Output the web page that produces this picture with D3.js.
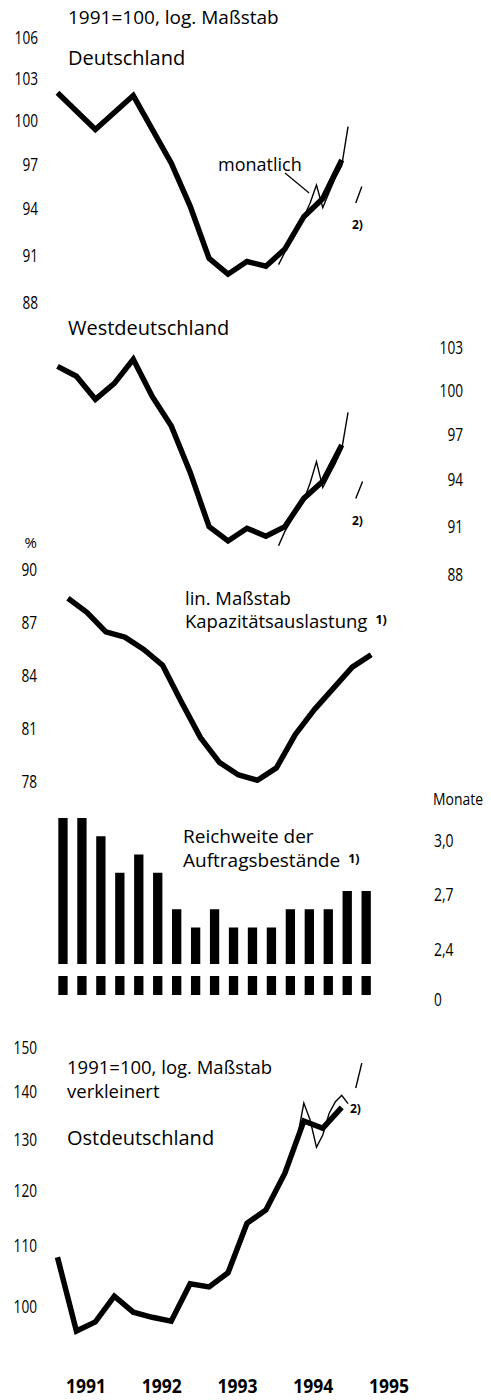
<!DOCTYPE html>
<html>
<head>
<meta charset="utf-8">
<script src="https://cdn.jsdelivr.net/npm/d3@7"></script>
<style>
body { margin: 0; background: #fff; }
svg { display: block; }
</style>
</head>
<body>
<svg id="chart" width="491" height="1400" font-family="'Open Sans', 'Noto Sans', sans-serif"></svg>
<script>
var width = 491;
var height = 1400;

// Jahre (Beschriftung unten)
var years = [1991, 1992, 1993, 1994, 1995];

// Vierteljahre 1991 I bis 1995 I
var quarters = ["1991-1", "1991-2", "1991-3", "1991-4", "1992-1", "1992-2", "1992-3", "1992-4",
                "1993-1", "1993-2", "1993-3", "1993-4", "1994-1", "1994-2", "1994-3", "1994-4", "1995-1"];
var months1994 = ["1994-01", "1994-02", "1994-03", "1994-04", "1994-05", "1994-06",
                  "1994-07", "1994-08", "1994-09", "1994-10", "1994-11", "1994-12"];

// Deutschland, 1991=100 (nur sichtbare Knickpunkte)
var deQuarters = ["1991-1", "1991-3", "1992-1", "1992-3", "1992-4", "1993-1", "1993-2",
                  "1993-3", "1993-4", "1994-1", "1994-2", "1994-3", "1994-4"];
var deValues = [102.0, 99.4, 101.8, 97.1, 94.2, 90.8, 89.8, 90.6, 90.3, 91.4, 93.5, 94.7, 97.3];
var deMonthly = [90.4, 91.2, 92.0, 92.8, 93.5, 94.4, 95.6, 94.1, 95.1, 96.1, 96.9, 99.6];
var deTicks = [106, 103, 100, 97, 94, 91, 88];

// Westdeutschland, 1991=100
var westValues = [101.7, 101.0, 99.4, 100.5, 102.2, 99.6, 97.6, 94.5,
                  91.0, 90.1, 90.9, 90.4, 91.0, 92.8, 93.9, 96.3];
var westMonthly = [89.8, 90.7, 91.4, 92.1, 92.7, 93.8, 95.2, 93.5, 94.3, 95.1, 96.0, 98.5];
var westTicks = [103, 100, 97, 94, 91, 88];

// Kapazitaetsauslastung in %
var kapValues = [88.4, 87.6, 86.5, 86.2, 85.5, 84.6, 82.5, 80.5, 79.1,
                 78.4, 78.1, 78.8, 80.7, 82.1, 83.3, 84.5, 85.2];
var kapTicks = [90, 87, 84, 81, 78];

// Reichweite der Auftragsbestaende in Monaten
var reichValues = [3.1, 3.1, 3.0, 2.8, 2.9, 2.8, 2.6, 2.5, 2.6,
                   2.5, 2.5, 2.5, 2.6, 2.6, 2.6, 2.7, 2.7];
var reichTicks = [3.0, 2.7, 2.4];

// Ostdeutschland, 1991=100
var ostValues = [108.1, 96.3, 97.7, 101.7, 99.2, 98.4, 97.8, 103.7,
                 103.2, 105.5, 114.0, 116.4, 123.3, 133.8, 132.3, 136.7];
var ostMonthly = [121.0, 122.9, 126.6, 130.5, 137.6, 134.0, 128.4, 130.9, 135.4, 137.9, 139.3, 137.5];
var ostTicks = [150, 140, 130, 120, 110, 100];

// Fussnote 2): kurze Striche [Zeit, Wert]
var deNote = [[1995.06, 94.4], [1995.14, 95.5]];
var westNote = [[1995.06, 92.8], [1995.15, 93.9]];
var ostNote = [[1995.06, 140.9], [1995.14, 146.5]];

function qpos(q) {
  var p = q.split("-");
  return +p[0] + (+p[1] - 0.5) / 4;
}
function mpos(m) {
  var p = m.split("-");
  return +p[0] + (+p[1] - 0.5) / 12;
}

var svg = d3.select("#chart");

var x = d3.scaleLinear().domain([1991, 1996]).range([48, 48 + 5 * 75.8]);

var yDe = d3.scaleLog().domain([88, 106]).range([303, 38]);
var yWest = d3.scaleLog().domain([88, 103]).range([575, 348]);
var yKap = d3.scaleLinear().domain([78, 90]).range([782, 570]);
var yReich = d3.scaleLinear().domain([2.3, 3.1]).range([964, 818]);
var yOst = d3.scaleLog().domain([100, 150]).range([1307, 1048]);

var de_locale = d3.formatLocale({decimal: ",", thousands: ".", grouping: [3], currency: ["", " €"]});

// schmale Ziffern wie im Original
function squeeze(sel, perDigit) {
  sel.attr("lengthAdjust", "spacingAndGlyphs")
     .attr("textLength", function() {
       var s = d3.select(this).text();
       return s.replace(/[^0-9]/g, "").length * perDigit + s.replace(/[0-9]/g, "").length * 4;
     });
}

//draw tick labels only, no axis lines
function ticks(g, axis) {
  g.call(axis.tickSize(0).tickPadding(0));
  g.select(".domain").remove();
  g.attr("font-family", null)
   .attr("font-size", 18);
  g.selectAll("text").call(squeeze, 7.8);
}

svg.append("g").attr("transform", "translate(38,0)")
  .call(ticks, d3.axisLeft(yDe).tickValues(deTicks).tickFormat(d3.format("d")));
svg.append("g").attr("transform", "translate(463,0)")
  .call(ticks, d3.axisLeft(yWest).tickValues(westTicks).tickFormat(d3.format("d")));
svg.append("g").attr("transform", "translate(37,0)")
  .call(ticks, d3.axisLeft(yKap).tickValues(kapTicks).tickFormat(d3.format("d")));
svg.append("g").attr("transform", "translate(434,4)")
  .call(ticks, d3.axisRight(yReich).tickValues(reichTicks).tickFormat(de_locale.format(".1f")));
svg.append("g").attr("transform", "translate(37,0)")
  .call(ticks, d3.axisLeft(yOst).tickValues(ostTicks).tickFormat(d3.format("d")));

// Jahreszahlen
svg.append("g")
  .selectAll("text")
  .data(years)
  .enter()
  .append("text")
  .attr("x", function(d) { return x(d + 0.5); })
  .attr("y", 1393)
  .attr("text-anchor", "middle")
  .attr("font-weight", "bold")
  .attr("font-size", 19.5)
  .text(function(d) { return d; })
  .call(squeeze, 10);

function thick(sel) {
  sel.attr("fill", "none").attr("stroke", "#000").attr("stroke-width", 5.5)
     .attr("stroke-linejoin", "miter").attr("stroke-miterlimit", 4);
}
function thin(sel) {
  sel.attr("fill", "none").attr("stroke", "#000").attr("stroke-width", 1.4)
     .attr("stroke-linejoin", "miter");
}

// Deutschland
var lineDe = d3.line()
  .x(function(d) { return x(d.t); })
  .y(function(d) { return yDe(d.v); });
svg.append("path")
  .datum(deQuarters.map(function(q, i) { return {t: qpos(q), v: deValues[i]}; }))
  .attr("d", lineDe).call(thick);
svg.append("path")
  .datum(months1994.map(function(m, i) { return {t: mpos(m), v: deMonthly[i]}; }))
  .attr("d", lineDe).call(thin);
svg.append("path")
  .datum(deNote.map(function(d) { return {t: d[0], v: d[1]}; }))
  .attr("d", lineDe).call(thin);

// Westdeutschland
var lineWest = d3.line()
  .x(function(d) { return x(d.t); })
  .y(function(d) { return yWest(d.v); });
svg.append("path")
  .datum(quarters.slice(0, 16).map(function(q, i) { return {t: qpos(q), v: westValues[i]}; }))
  .attr("d", lineWest).call(thick);
svg.append("path")
  .datum(months1994.map(function(m, i) { return {t: mpos(m), v: westMonthly[i]}; }))
  .attr("d", lineWest).call(thin);
svg.append("path")
  .datum(westNote.map(function(d) { return {t: d[0], v: d[1]}; }))
  .attr("d", lineWest).call(thin);

// Kapazitaetsauslastung
var lineKap = d3.line()
  .x(function(d) { return x(d.t) + 10.5; })
  .y(function(d) { return yKap(d.v); });
svg.append("path")
  .datum(quarters.map(function(q, i) { return {t: qpos(q), v: kapValues[i]}; }))
  .attr("d", lineKap).call(thick)
  .attr("stroke-linejoin", "round");

// Reichweite: Balken mit unterbrochener Achse
var barW = 9.3;
var bars = svg.append("g");
bars.selectAll("rect.bar")
  .data(reichValues)
  .enter()
  .append("rect")
  .attr("class", "bar")
  .attr("x", function(d, i) { return x(qpos(quarters[i])) + 5.5 - barW / 2; })
  .attr("width", barW)
  .attr("y", function(d) { return yReich(d); })
  .attr("height", function(d) { return yReich.range()[0] - yReich(d); })
  .attr("fill", "#000");
bars.selectAll("rect.stub")
  .data(reichValues)
  .enter()
  .append("rect")
  .attr("class", "stub")
  .attr("x", function(d, i) { return x(qpos(quarters[i])) + 5.5 - barW / 2; })
  .attr("width", barW)
  .attr("y", 976)
  .attr("height", 19)
  .attr("fill", "#000");

// Ostdeutschland
var lineOst = d3.line()
  .x(function(d) { return x(d.t); })
  .y(function(d) { return yOst(d.v); });
svg.append("path")
  .datum(quarters.slice(0, 16).map(function(q, i) { return {t: qpos(q), v: ostValues[i]}; }))
  .attr("d", lineOst).call(thick);
svg.append("path")
  .datum(months1994.map(function(m, i) { return {t: mpos(m), v: ostMonthly[i]}; }))
  .attr("d", lineOst).call(thin);
svg.append("path")
  .datum(ostNote.map(function(d) { return {t: d[0], v: d[1]}; }))
  .attr("d", lineOst).call(thin);

// Texte
function label(txt, lx, ly, size, opts) {
  opts = opts || {};
  return svg.append("text")
    .attr("x", lx).attr("y", ly)
    .attr("font-size", size)
    .attr("font-weight", opts.bold ? "bold" : null)
    .attr("text-anchor", opts.anchor || "start")
    .text(txt);
}

// mehrzeilige Texte als ein Element, Fussnote hochgestellt
function block(lines, lx, ly, size, lead, note) {
  var t = svg.append("text").attr("x", lx).attr("y", ly).attr("font-size", size);
  lines.forEach(function(s, i) {
    t.append("tspan").attr("x", lx).attr("dy", i ? lead : 0).text(s);
  });
  if (note) {
    t.append("tspan").attr("dx", 8).attr("dy", -4)
      .attr("font-size", 12.5).attr("font-weight", "bold").text(note);
  }
  return t;
}

label("1991=100, log. Maßstab", 68, 24, 19);
label("Deutschland", 68, 65, 20);
label("monatlich", 218, 171, 18);
label("2)", 352, 229, 12, {bold: true});
label("Westdeutschland", 68, 335, 20);
label("2)", 352, 525, 12, {bold: true});
label("%", 37, 548, 15, {anchor: "end"});
block(["lin. Maßstab", "Kapazitätsauslastung"], 185, 605, 18.5, 23, "1)");
label("Monate", 433, 805, 16).attr("textLength", 50).attr("lengthAdjust", "spacingAndGlyphs");
block(["Reichweite der", "Auftragsbestände"], 183, 843, 19, 23.5, "1)");
label("0", 434, 1006, 18).call(squeeze, 7.8);
block(["1991=100, log. Maßstab", "verkleinert"], 67, 1074, 18.5, 23.5);
label("Ostdeutschland", 67, 1145, 20);
label("2)", 350, 1113, 12, {bold: true});

// Hinweislinie "monatlich" zum Juni/Juli-Wert
svg.append("line")
  .attr("x1", 285).attr("y1", 173)
  .attr("x2", x(mpos("1994-06")) - 1).attr("y2", yDe(deMonthly[5]) - 10)
  .attr("stroke", "#000").attr("stroke-width", 1.2);
</script>
</body>
</html>
